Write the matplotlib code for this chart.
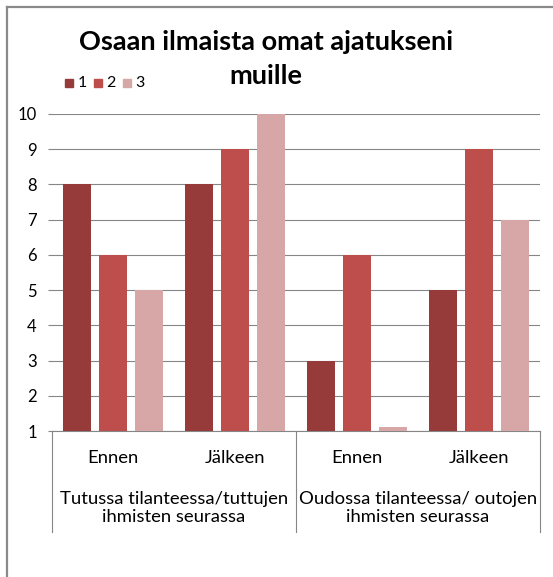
import numpy as np
import matplotlib
matplotlib.use("Agg")
import matplotlib.pyplot as plt
import matplotlib.transforms as mtransforms
from matplotlib.lines import Line2D
from matplotlib.patches import Rectangle

plt.rcParams['font.family'] = ['Lato', 'DejaVu Sans']

# data
title_lines = ["Osaan ilmaista omat ajatukseni", "muille"]
categories = ["Ennen", "Jälkeen", "Ennen", "Jälkeen"]
groups = ["Tutussa tilanteessa/tuttujen\nihmisten seurassa",
          "Oudossa tilanteessa/ outojen\nihmisten seurassa"]
series_names = ["1", "2", "3"]
vals_1 = [8, 8, 3, 5]
vals_2 = [6, 9, 6, 9]
vals_3 = [5, 10, 1.1, 7]
colors = ["#973B3A", "#BD4E4B", "#D6A7A6"]
yticks = list(range(1, 11))

W, H = 553, 577
fig = plt.figure(figsize=(W / 100, H / 100), dpi=100)
ax = fig.add_axes([52 / W, 1 - 431 / H, 488 / W, 317 / H])

x = np.arange(len(categories))
width = 0.23
offset = 0.295
for i, (vals, c) in enumerate(zip([vals_1, vals_2, vals_3], colors)):
    ax.bar(x + (i - 1) * offset, np.array(vals) - 1, width, bottom=1,
           color=c, zorder=3)

ax.set_xlim(-0.5, 3.5)
ax.set_ylim(1, 10)
ax.set_yticks(yticks)
ax.set_yticklabels([str(t) for t in yticks], fontsize=12)
ax.tick_params(axis='y', length=3, color="#868686", pad=8)
ax.tick_params(axis='x', length=0, labelbottom=False)
ax.yaxis.grid(True, color="#868686", linewidth=0.8, zorder=0)
for sp in ["top", "right", "left"]:
    ax.spines[sp].set_visible(False)
ax.spines["bottom"].set_color("#868686")

# category labels
tr = mtransforms.blended_transform_factory(ax.transData, fig.transFigure)
for xi, lab in zip(x, categories):
    ax.text(xi, 1 - 458 / H, lab, transform=tr, ha="center", va="center",
            fontsize=13.3)
for gi, lab in enumerate(groups):
    ax.text(gi * 2 + 0.5, 1 - 508 / H, lab, transform=tr, ha="center",
            va="center", fontsize=13.3, linespacing=1.15)
for xv in [-0.5, 1.5, 3.5]:
    fig.add_artist(Line2D([xv, xv], [1 - 431 / H, 1 - 532 / H], transform=tr,
                          color="#868686", linewidth=0.8))

# title
for li, (line, ty) in enumerate(zip(title_lines, [42, 76])):
    fig.text(266 / W, 1 - ty / H, line, ha="center", va="center",
             fontsize=19.5, fontweight="bold")

# legend
for i, (name, c) in enumerate(zip(series_names, colors)):
    lx = 69 + i * 29
    fig.add_artist(Rectangle(((lx - 4) / W, 1 - 87 / H), 8 / W, 8 / H,
                             transform=fig.transFigure, color=c))
    fig.text((lx + 8.5) / W, 1 - 83 / H, name, ha="left", va="center",
             fontsize=11.5)

# outer frame
fig.add_artist(Line2D([7 / W, 7 / W], [0, 1 - 7 / H], transform=fig.transFigure,
                      color="#8A8A8A", linewidth=1.6))
fig.add_artist(Line2D([7 / W, 1], [1 - 7 / H, 1 - 7 / H], transform=fig.transFigure,
                      color="#8A8A8A", linewidth=1.6))

fig.savefig("out.png", dpi=100)
